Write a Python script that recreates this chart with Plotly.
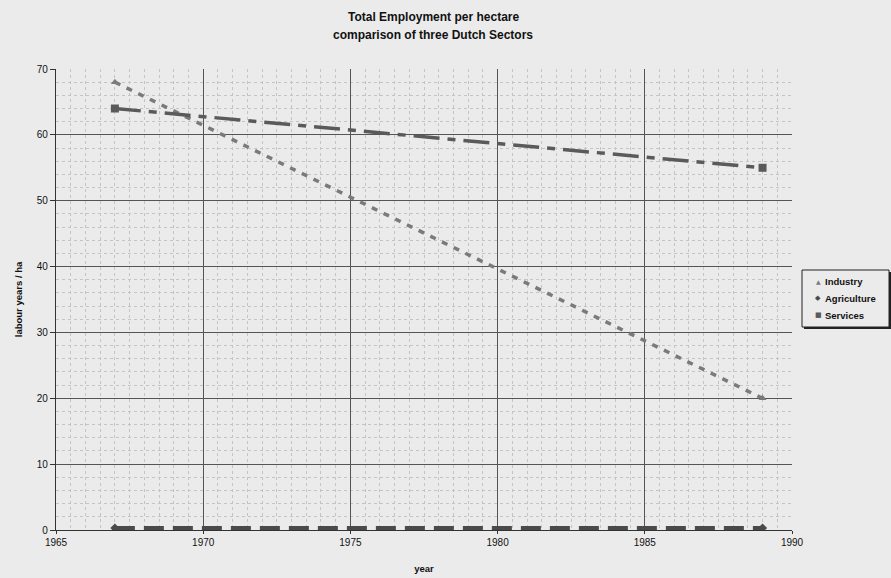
import plotly.graph_objects as go

years = [1967, 1989]
industry = [68.0, 20.0]
agriculture = [0.3, 0.3]
services = [64.0, 55.0]

series_names = ["Industry", "Agriculture", "Services"]
legend_symbols = ["▲", "◆", "■"]

x_ticks = [1965, 1970, 1975, 1980, 1985, 1990]
y_ticks = [0, 10, 20, 30, 40, 50, 60, 70]

FONT = "Liberation Sans"
BG = "#ebebeb"

styles = [
    ("#7a7a7a", 3.5, "6px,7px", "triangle-up", 7),
    ("#4a4a4a", 4, "20px,9px", "diamond", 7),
    ("#5a5a5a", 3.5, "26px,8px,8px,8px", "square", 8),
]
values = [industry, agriculture, services]

fig = go.Figure()
for name, vals, (col, w, dash, sym, ms) in zip(series_names, values, styles):
    fig.add_trace(go.Scatter(
        x=years, y=vals, name=name, mode="lines+markers", showlegend=False,
        line=dict(color=col, width=w, dash=dash),
        marker=dict(symbol=sym, size=ms, color=col),
    ))

# manual legend (box + shadow + entries)
L, R, T, B = 802, 889, 270, 327
def px(xp):
    return (xp - 56) / 736
def py(yp):
    return (530 - yp) / 461

shapes = [
    dict(type="rect", xref="paper", yref="paper", x0=px(L + 2), x1=px(R + 2),
         y0=py(B + 2), y1=py(T + 2), fillcolor="#222", line=dict(width=0), layer="above"),
    dict(type="rect", xref="paper", yref="paper", x0=px(L), x1=px(R),
         y0=py(B), y1=py(T), fillcolor=BG, line=dict(color="#222", width=1), layer="above"),
]
annotations = []
entry_y = [281, 298, 315]
sym_sizes = [6, 7, 7]
for i, (name, s) in enumerate(zip(series_names, legend_symbols)):
    annotations.append(dict(
        xref="paper", yref="paper", x=px(818), y=py(entry_y[i]), xanchor="center", yanchor="middle",
        text=s, showarrow=False, font=dict(size=sym_sizes[i], color=styles[i][0], family="DejaVu Sans"),
    ))
    annotations.append(dict(
        xref="paper", yref="paper", x=px(823), y=py(entry_y[i]), xanchor="left", yanchor="middle",
        text=f"<b>{name}</b>", showarrow=False, font=dict(size=9.5, color="#111", family=FONT),
    ))

# title as two annotations for precise placement
annotations.append(dict(
    xref="paper", yref="paper", x=px(433), y=py(17), xanchor="center", yanchor="middle",
    text="<b>Total Employment per hectare</b>", showarrow=False,
    font=dict(size=12, color="#111", family=FONT),
))
annotations.append(dict(
    xref="paper", yref="paper", x=px(433), y=py(35), xanchor="center", yanchor="middle",
    text="<b>comparison of three Dutch Sectors</b>", showarrow=False,
    font=dict(size=12, color="#111", family=FONT),
))

fig.update_layout(
    width=891, height=578,
    margin=dict(l=56, r=99, t=69, b=48, autoexpand=False),
    paper_bgcolor=BG, plot_bgcolor=BG,
    font=dict(family=FONT, size=10, color="#111"),
    showlegend=False,
    shapes=shapes,
    annotations=annotations,
    xaxis=dict(
        range=[1965, 1990], tickvals=x_ticks, ticktext=[str(v) for v in x_ticks],
        showgrid=True, gridcolor="#555", gridwidth=1.2,
        showline=True, linecolor="#333", linewidth=1.2,
        ticks="outside", ticklen=3, tickcolor="#333",
        zeroline=False,
        minor=dict(dtick=0.5, showgrid=True, gridcolor="#c4c4c4", griddash="dot", gridwidth=1),
        title=dict(text="<b>year</b>", font=dict(size=9.5, family=FONT), standoff=18),
        tickfont=dict(size=10, family=FONT),
    ),
    yaxis=dict(
        range=[0, 70], tickvals=y_ticks,
        showgrid=True, gridcolor="#555", gridwidth=1.2,
        showline=True, linecolor="#333", linewidth=1.2,
        ticks="outside", ticklen=5, tickcolor="#333",
        zeroline=False,
        minor=dict(dtick=2, showgrid=True, gridcolor="#c4c4c4", griddash="dot", gridwidth=1),
        title=dict(text="<b>labour years / ha</b>", font=dict(size=9.5, family=FONT), standoff=12),
        tickfont=dict(size=10, family=FONT),
    ),
)

fig.write_html("out.html")
